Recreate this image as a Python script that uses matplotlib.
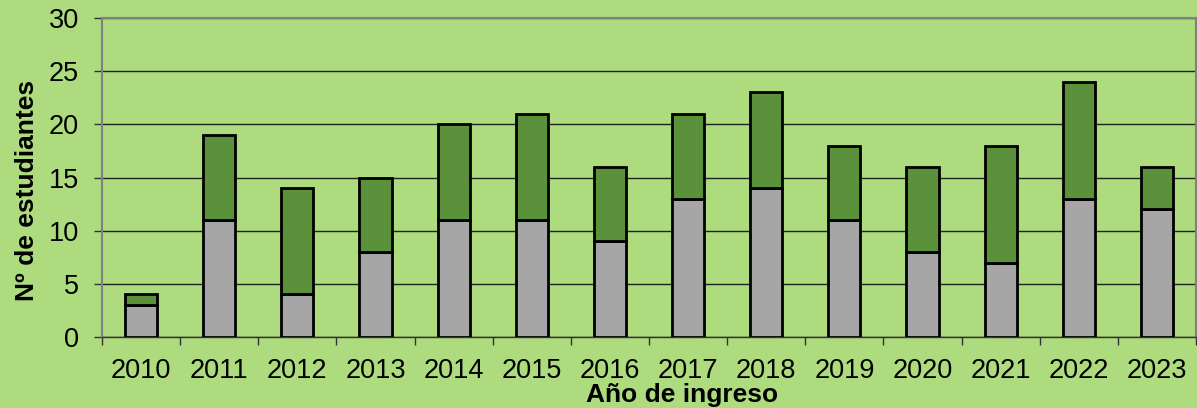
import numpy as np
import matplotlib
matplotlib.use('Agg')
import matplotlib.pyplot as plt

years = ['2010', '2011', '2012', '2013', '2014', '2015', '2016',
         '2017', '2018', '2019', '2020', '2021', '2022', '2023']
grey_vals = [3, 11, 4, 8, 11, 11, 9, 13, 14, 11, 8, 7, 13, 12]
green_vals = [1, 8, 10, 7, 9, 10, 7, 8, 9, 7, 8, 11, 11, 4]

bg = '#addb7e'
plt.rcParams['font.family'] = ['Liberation Sans', 'DejaVu Sans']

fig = plt.figure(figsize=(11.97, 4.08), dpi=100, facecolor=bg)
ax = fig.add_axes([102 / 1197, 1 - 337 / 408, (1196 - 102) / 1197, (337 - 18) / 408])
ax.set_facecolor(bg)

x = np.arange(len(years))
ax.bar(x, grey_vals, width=0.41, color='#a6a6a6', edgecolor='black', linewidth=2, zorder=3)
ax.bar(x, green_vals, bottom=grey_vals, width=0.41, color='#5b913b',
       edgecolor='black', linewidth=2, zorder=3)

ax.set_xlim(-0.5, len(years) - 0.5)
ax.set_ylim(0, 30)
ax.set_yticks(range(0, 31, 5))
ax.yaxis.grid(True, color='#222222', linewidth=1)
ax.set_axisbelow(True)

# category labels sit between tick marks at the boundaries
ax.set_xticks(x)
ax.set_xticklabels(years)
ax.set_xticks(np.arange(-0.5, len(years), 1), minor=True)
ax.tick_params(axis='x', which='major', length=0, labelsize=19.5, pad=15)
ax.tick_params(axis='x', which='minor', length=6, width=1, color='#333333')
ax.tick_params(axis='y', length=5.5, width=1, color='#333333', labelsize=19.5, pad=11)

for side in ['left', 'top', 'right']:
    ax.spines[side].set_color('#808080')
    ax.spines[side].set_linewidth(1.5)
ax.spines['bottom'].set_color('#333333')
ax.spines['bottom'].set_linewidth(1)

ax.set_ylabel('Nº de estudiantes', fontsize=19, fontweight='bold')
ax.yaxis.set_label_coords(-0.058, 0.458)
ax.set_xlabel('Año de ingreso', fontsize=19, fontweight='bold')
ax.xaxis.set_label_coords(0.53, -0.143)

fig.savefig('out.png', dpi=100, facecolor=bg)
